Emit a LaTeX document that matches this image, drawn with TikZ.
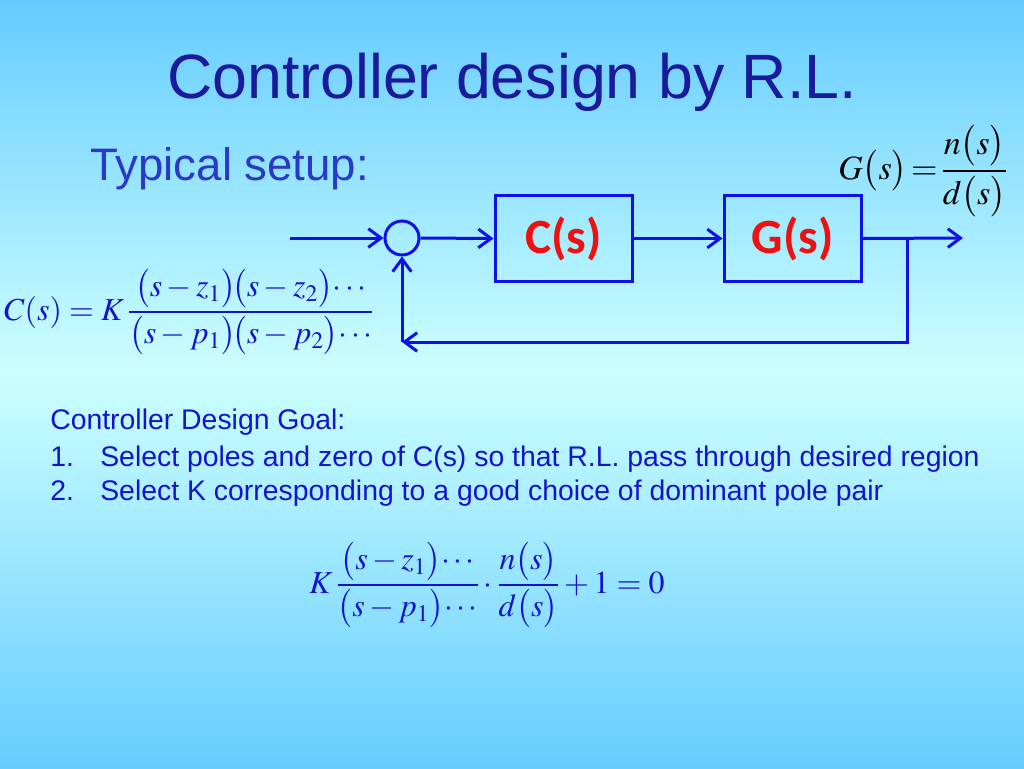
\documentclass[tikz,border=0pt]{standalone}
\usepackage{amsmath}
\usepackage{mathptmx}
\usepackage[no-math]{fontspec}
\setmainfont{Liberation Sans}
\newfontfamily\boxfont{Carlito}
\usetikzlibrary{arrows.meta}
\definecolor{bgedge}{HTML}{66CCFF}
\definecolor{bgmid}{HTML}{CCFFFF}
\definecolor{titleblue}{HTML}{1A1A9C}
\definecolor{subblue}{HTML}{2A3AC8}
\definecolor{textblue}{HTML}{1414CC}
\definecolor{lineblue}{HTML}{1010E8}
\definecolor{boxred}{HTML}{EE1111}
\tikzset{
  wire/.style={draw=lineblue, line width=2.25pt},
  sig/.style={wire, -{Straight Barb[length=9.5pt,width=14pt,line width=2.25pt]}},
  blockbox/.style={draw=lineblue, line width=2.25pt, minimum width=102.75pt, minimum height=64.5pt, inner sep=0pt,
    text=boxred, font=\boxfont\bfseries\fontsize{37}{44}\selectfont},
  sumnode/.style={draw=lineblue, line width=2.25pt, circle, minimum size=25.5pt, inner sep=0pt},
  titletext/.style={text=titleblue, font=\fontsize{47}{56}\selectfont, inner sep=0pt},
  subtext/.style={text=subblue, font=\fontsize{34.2}{41}\selectfont, inner sep=0pt},
  bodytext/.style={text=textblue, font=\fontsize{21.3}{25}\selectfont, inner sep=0pt},
  formula/.style={text=textblue, font=\fontsize{24}{29}\selectfont, inner sep=0pt},
}
\begin{document}
\begin{tikzpicture}[x=0.75pt,y=-0.75pt]
\useasboundingbox (0,0) rectangle (1024,768);
\foreach \i in {0,...,191} {
  \pgfmathsetmacro\mixv{\i*4<370 ? (370-\i*4)/370*100 : (\i*4-370)/398*100}
  \fill[bgedge!\mixv!bgmid] (0,\i*4) rectangle (1024,\i*4+4.6);
}

\node[titletext, anchor=base] (title) at (512,98) {Controller design by R.L.};
\node[subtext, anchor=base west] (sub) at (90,180) {Typical setup:};

\node[formula, text=black, font=\fontsize{25.5}{30}\selectfont] (geq) at (923,171)
  {$G\bigl(s\bigr)\!=\!\dfrac{n\bigl(s\bigr)}{d\bigl(s\bigr)}$};

% block diagram
\coordinate (in) at (290,238);
\node[sumnode] (sum) at (402,238) {};
\node[blockbox] (C) at (563.5,238.5) {C(s)};
\node[blockbox] (G) at (792.5,238.5) {G(s)};
\coordinate (out) at (963,238);
\coordinate (br) at (907,238);
\coordinate (corner) at (402,342);

\draw[sig] (in) -- (sum.west);
\draw[sig] (sum.east) -- (C.west);
\draw[sig] (C.east) -- (G.west);
\draw[sig] (G.east) -- (out);
\draw[sig] (br) -- (br |- corner) -- (corner);
\draw[sig] (corner) -- (sum.south);

\node[formula, anchor=west, font=\fontsize{24}{29}\selectfont] (ceq) at (4,312)
  {$C(s) = K\,\dfrac{\medmuskip=2mu\bigl(s-z_1\bigr)\!\bigl(s-z_2\bigr){\cdots}}{\medmuskip=2mu\bigl(s-p_1\bigr)\!\bigl(s-p_2\bigr){\cdots}}$};

\node[bodytext, anchor=base west] (goal) at (50,429) {Controller Design Goal:};
\node[bodytext, anchor=base west] (n1) at (50,466) {1.};
\node[bodytext, anchor=base west] (t1) at (100,466) {Select poles and zero of C(s) so that R.L. pass through desired region};
\node[bodytext, anchor=base west] (n2) at (50,500) {2.};
\node[bodytext, anchor=base west] (t2) at (100,500) {Select K corresponding to a good choice of dominant pole pair};

\node[formula, font=\fontsize{24}{29}\selectfont] (keq) at (487,585)
  {$K\,\dfrac{\medmuskip=2mu\bigl(s-z_1\bigr){\cdots}}{\medmuskip=2mu\bigl(s-p_1\bigr){\cdots}}\cdot\dfrac{n\bigl(s\bigr)}{d\bigl(s\bigr)}+1=0$};
\end{tikzpicture}
\end{document}
